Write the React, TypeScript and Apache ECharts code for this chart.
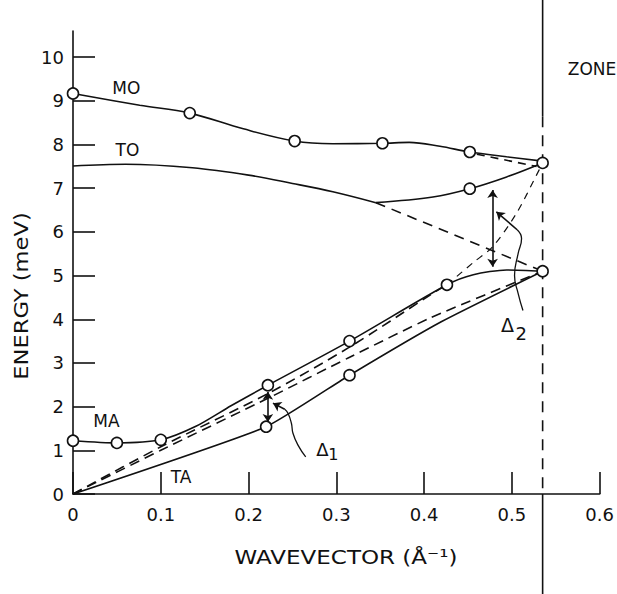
import React, { useEffect, useRef } from "react";
import * as echarts from "echarts";

// ---- axes ----
const X_TICKS = [0, 0.1, 0.2, 0.3, 0.4, 0.5, 0.6];
const Y_TICKS = [0, 1, 2, 3, 4, 5, 6, 7, 8, 9, 10];
const ZONE_Q = 0.535;

// ---- MO branch ----
const MO_CIRCLES = [[0, 9.17], [0.133, 8.72], [0.2525, 8.08], [0.3525, 8.03], [0.452, 7.83], [0.535, 7.58]];
const MO_CURVE = [[0, 9.17], [0.076, 8.9], [0.133, 8.72], [0.194, 8.36], [0.2525, 8.08], [0.296, 8.02], [0.3525, 8.03], [0.383, 8.05], [0.418, 7.96], [0.452, 7.83], [0.494, 7.72], [0.535, 7.62]];
const MO_DASH = [[0.46, 7.78], [0.528, 7.5]];

// ---- TO branch ----
const TO_CURVE_A = [[0, 7.51], [0.06, 7.55], [0.136, 7.47], [0.2, 7.3], [0.25, 7.11], [0.296, 6.92], [0.345, 6.67]];
const TO_CURVE_B = [[0.345, 6.67], [0.41, 6.8], [0.452, 6.99], [0.494, 7.26], [0.535, 7.58]];
const TO_CIRCLES = [[0.452, 6.99]];
const TO_DASH = [[0.345, 6.67], [0.535, 5.1]];

// ---- MA branch ----
const MA_CIRCLES = [[0, 1.22], [0.05, 1.17], [0.1, 1.24], [0.222, 2.49], [0.315, 3.5], [0.426, 4.79], [0.535, 5.1]];
const MA_CURVE = [[0, 1.22], [0.05, 1.17], [0.1, 1.24], [0.14, 1.55], [0.18, 2.02], [0.222, 2.49], [0.315, 3.5], [0.426, 4.79], [0.456, 5.02], [0.494, 5.13], [0.535, 5.1]];
const MA_DASH = [[0, 0], [0.1, 1.08], [0.222, 2.3], [0.314, 3.35], [0.408, 4.57], [0.426, 4.79]];
const MA_DASH_UP = [[0.426, 4.79], [0.456, 5.3], [0.478, 5.66], [0.505, 6.42], [0.528, 7.3], [0.535, 7.58]];

// ---- TA branch ----
const TA_CIRCLES = [[0.22, 1.54], [0.315, 2.72]];
const TA_CURVE = [[0, 0], [0.22, 1.54], [0.315, 2.72], [0.42, 3.95], [0.535, 5.1]];
const TA_DASH = [[0, 0], [0.1, 1.0], [0.222, 2.19], [0.314, 3.12], [0.408, 4.04], [0.535, 5.1]];

// ---- gap annotations ----
const D1_ARROW = [[0.222, 2.34], [0.222, 1.65]];
const D1_LEADER = [[0.2651, 0.85], [0.2563, 1.12], [0.2506, 1.39], [0.2488, 1.62], [0.2449, 1.85], [0.2412, 1.94]];
const D1_TIP = [[0.2412, 1.94], [0.2278, 2.08]];
const D2_ARROW = [[0.478, 6.96], [0.478, 5.2]];
const D2_LEADER = [[0.5126, 4.2], [0.507, 4.6], [0.503, 5.0], [0.507, 5.5], [0.511, 5.85], [0.506, 6.05]];
const D2_TIP = [[0.506, 6.05], [0.4823, 6.46]];

// ---- text labels (data anchors) ----
const BRANCH_LABELS = [
  { text: "MO", at: [0.0608, 9.3] },
  { text: "TO", at: [0.062, 7.87] },
  { text: "MA", at: [0.038, 1.67] },
  { text: "TA", at: [0.123, 0.39] },
];

const FONT = '"DejaVu Sans", sans-serif';
const BLACK = "#111";

function lineSeries(data: number[][], opts: any = {}) {
  return {
    type: "line",
    data,
    showSymbol: false,
    symbol: "none",
    smooth: opts.smooth ?? 0.35,
    lineStyle: { color: BLACK, width: opts.width ?? 1.6, type: opts.dash ?? "solid" },
    z: 2,
    silent: true,
  };
}

function arrowSeries(coords: number[][], both: boolean) {
  return {
    type: "lines",
    coordinateSystem: "cartesian2d",
    symbol: both ? ["arrow", "arrow"] : ["none", "arrow"],
    symbolSize: 8,
    lineStyle: { color: BLACK, width: 1.6, opacity: 1, curveness: 0 },
    itemStyle: { color: BLACK },
    data: [{ coords }],
    z: 3,
    silent: true,
  };
}

function circleSeries(data: number[][]) {
  return {
    type: "scatter",
    data,
    symbol: "circle",
    symbolSize: 11,
    itemStyle: { color: "#fff", borderColor: BLACK, borderWidth: 1.6, opacity: 1 },
    z: 5,
    silent: true,
  };
}

export default function App() {
  const ref = useRef<HTMLDivElement>(null);
  useEffect(() => {
    document.body.style.margin = "0";
    const chart = echarts.init(ref.current!, null, { renderer: "svg" });
    const axisLine = { show: true, lineStyle: { color: BLACK, width: 1.6 } };
    chart.setOption({
      animation: false,
      backgroundColor: "#fff",
      grid: { left: 73, right: 17, top: 31, bottom: 100, containLabel: false },
      xAxis: {
        type: "value",
        min: 0,
        max: 0.6,
        interval: 0.1,
        axisLine,
        axisTick: { inside: true, length: 22, lineStyle: { color: BLACK, width: 1.6 } },
        axisLabel: {
          color: BLACK,
          fontFamily: FONT,
          fontSize: 18,
          margin: 11,
          formatter: (v: number) => String(Math.round(v * 10) / 10),
        },
        splitLine: { show: false },
      },
      yAxis: {
        type: "value",
        min: 0,
        max: 10.6,
        interval: 1,
        axisLine,
        axisTick: { inside: true, length: 22, customValues: Y_TICKS, lineStyle: { color: BLACK, width: 1.6 } },
        axisLabel: { color: BLACK, fontFamily: FONT, fontSize: 18, margin: 9, customValues: Y_TICKS },
        splitLine: { show: false },
      },
      series: [
        lineSeries(MO_CURVE),
        lineSeries(MO_DASH, { smooth: false, dash: [8, 6] }),
        lineSeries(TO_CURVE_A),
        lineSeries(TO_CURVE_B),
        lineSeries(TO_DASH, { smooth: false, dash: [10, 7] }),
        lineSeries(MA_CURVE, { smooth: 0.25 }),
        lineSeries(MA_DASH, { smooth: 0.3, dash: [10, 6] }),
        lineSeries(MA_DASH_UP, { smooth: 0.3, dash: [7, 6], width: 1.2 }),
        lineSeries(TA_CURVE, { smooth: 0.15 }),
        lineSeries(TA_DASH, { smooth: 0.2, dash: [10, 6] }),
        lineSeries(D1_LEADER, { smooth: 0.5, width: 1.3 }),
        lineSeries(D2_LEADER, { smooth: 0.5, width: 1.3 }),
        arrowSeries(D1_ARROW, true),
        arrowSeries(D1_TIP, false),
        arrowSeries(D2_ARROW, true),
        arrowSeries(D2_TIP, false),
        circleSeries(MO_CIRCLES),
        circleSeries(TO_CIRCLES),
        circleSeries(MA_CIRCLES),
        circleSeries(TA_CIRCLES),
      ],
    });

    const px = (p: number[]) => chart.convertToPixel({ gridIndex: 0 }, p) as number[];
    const txt = (text: string, p: number[], size = 17, extra: any = {}) => ({
      type: "text",
      x: p[0],
      y: p[1],
      silent: true,
      z: 10,
      ...extra,
      style: { text, fill: BLACK, font: `${size}px ${FONT}`, align: extra.align ?? "center", verticalAlign: "middle" },
    });

    const zoneTop = px([ZONE_Q, 8.65]);
    const zoneAxis = px([ZONE_Q, 0]);
    const h = chart.getHeight();
    const graphic: any[] = [
      { type: "line", z: 1, silent: true, shape: { x1: zoneTop[0], y1: 0, x2: zoneTop[0], y2: zoneTop[1] }, style: { stroke: BLACK, lineWidth: 1.6 } },
      { type: "line", z: 1, silent: true, shape: { x1: zoneTop[0], y1: zoneTop[1], x2: zoneAxis[0], y2: zoneAxis[1] }, style: { stroke: BLACK, lineWidth: 1.6, lineDash: [11, 8] } },
      { type: "line", z: 1, silent: true, shape: { x1: zoneAxis[0], y1: zoneAxis[1], x2: zoneAxis[0], y2: h }, style: { stroke: BLACK, lineWidth: 1.6 } },
      ...BRANCH_LABELS.map((l) => txt(l.text, px(l.at))),
      txt("ZONE", px([0.5636, 9.73]), 17, { align: "left" }),
      txt("Δ", px([0.284, 1.01]), 18),
      txt("1", px([0.2965, 0.9]), 16),
      txt("Δ", px([0.495, 3.88]), 19),
      txt("2", px([0.5105, 3.68]), 18),
      {
        type: "text",
        x: 346,
        y: 557,
        scaleX: 1.15,
        silent: true,
        style: { text: "WAVEVECTOR (Å⁻¹)", fill: BLACK, font: `20px ${FONT}`, align: "center", verticalAlign: "middle" },
      },
      {
        type: "text",
        x: 21,
        y: 296,
        rotation: Math.PI / 2,
        scaleX: 1.13,
        silent: true,
        style: { text: "ENERGY (meV)", fill: BLACK, font: `20px ${FONT}`, align: "center", verticalAlign: "middle" },
      },
    ];
    chart.setOption({ graphic });
    return () => chart.dispose();
  }, []);
  return <div ref={ref} style={{ width: 617, height: 594, position: "absolute", left: 0, top: 0 }} />;
}
